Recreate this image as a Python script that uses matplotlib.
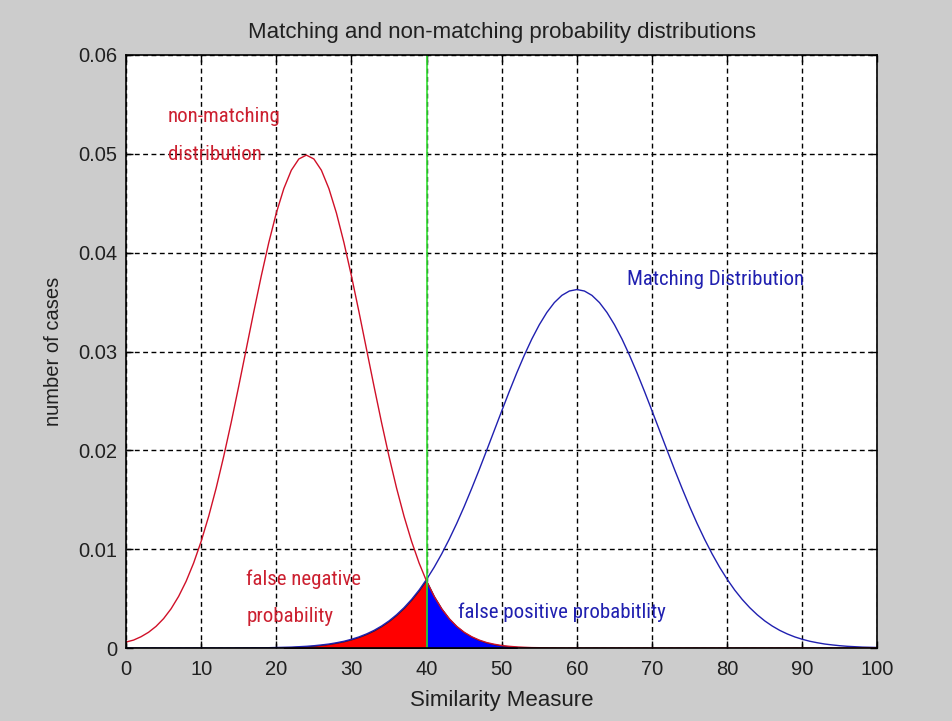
import numpy as np
import matplotlib
matplotlib.use("Agg")
import matplotlib.pyplot as plt
from matplotlib import font_manager

# ---------------- data ----------------
x_vals = list(range(0, 101))
non_matching = [0.00060, 0.00080, 0.00114, 0.00159, 0.00219, 0.00297, 0.00397, 0.00522,
                0.00675, 0.00860, 0.01079, 0.01332, 0.01619, 0.01938, 0.02283, 0.02649,
                0.03025, 0.03401, 0.03764, 0.04102, 0.04401, 0.04648, 0.04834, 0.04948,
                0.04987, 0.04948, 0.04834, 0.04648, 0.04401, 0.04102, 0.03764, 0.03401,
                0.03025, 0.02649, 0.02283, 0.01938, 0.01619, 0.01332, 0.01079, 0.00860,
                0.00675, 0.00522, 0.00397, 0.00297, 0.00219, 0.00159, 0.00114, 0.00080,
                0.00055, 0.00038, 0.00025, 0.00017, 0.00011, 0.00007, 0.00004, 0.00003,
                0.00002, 0.00001,
                0.0, 0.0, 0.0, 0.0, 0.0, 0.0, 0.0, 0.0, 0.0, 0.0, 0.0,
                0.0, 0.0, 0.0, 0.0, 0.0, 0.0, 0.0, 0.0, 0.0, 0.0, 0.0,
                0.0, 0.0, 0.0, 0.0, 0.0, 0.0, 0.0, 0.0, 0.0, 0.0, 0.0,
                0.0, 0.0, 0.0, 0.0, 0.0, 0.0, 0.0, 0.0, 0.0, 0.0]
matching = [0.0, 0.0, 0.0, 0.0, 0.0, 0.0, 0.0, 0.0, 0.0, 0.0,
            0.0, 0.0, 0.0, 0.0, 0.0,
            0.00001, 0.00001, 0.00002, 0.00002, 0.00003, 0.00005, 0.00007, 0.00009,
            0.00013, 0.00017, 0.00023, 0.00031, 0.00040, 0.00053, 0.00068, 0.00088,
            0.00112, 0.00142, 0.00178, 0.00222, 0.00274, 0.00336, 0.00408, 0.00491,
            0.00586, 0.00695, 0.00816, 0.00951, 0.01099, 0.01259, 0.01431, 0.01614,
            0.01804, 0.02001, 0.02200, 0.02399, 0.02595, 0.02784, 0.02962, 0.03126,
            0.03271, 0.03395, 0.03495, 0.03568, 0.03612, 0.03627, 0.03612, 0.03568,
            0.03495, 0.03395, 0.03271, 0.03126, 0.02962, 0.02784, 0.02595, 0.02399,
            0.02200, 0.02001, 0.01804, 0.01614, 0.01431, 0.01259, 0.01099, 0.00951,
            0.00816, 0.00695, 0.00586, 0.00491, 0.00408, 0.00336, 0.00274, 0.00222,
            0.00178, 0.00142, 0.00112, 0.00088, 0.00068, 0.00053, 0.00040, 0.00031,
            0.00023, 0.00017, 0.00013, 0.00009, 0.00007, 0.00005]
threshold = 40
false_neg_start = 21
false_pos_end = 52
x_ticks = [0, 10, 20, 30, 40, 50, 60, 70, 80, 90, 100]
y_ticks = [0, 0.01, 0.02, 0.03, 0.04, 0.05, 0.06]
y_tick_labels = ["0", "0.01", "0.02", "0.03", "0.04", "0.05", "0.06"]


# ---------------- pick a narrow font for the annotations ----------------
def _has_font(name):
    try:
        path = font_manager.findfont(font_manager.FontProperties(family=name),
                                     fallback_to_default=False)
        return path is not None
    except Exception:
        return False


if _has_font("Liberation Sans Narrow"):
    ann_family, ann_size = ["Liberation Sans Narrow", "DejaVu Sans"], 16.0
elif _has_font("Roboto Condensed"):
    ann_family, ann_size = ["Roboto Condensed", "DejaVu Sans"], 15.0
else:
    ann_family, ann_size = ["Liberation Sans", "DejaVu Sans"], 13.6

# ---------------- figure ----------------
BG = "#cccccc"
fig = plt.figure(figsize=(9.53, 7.21), dpi=100, facecolor=BG)
ax = fig.add_axes([126 / 953, 1 - 648 / 721, (877.5 - 126) / 953, (648 - 55) / 721])
ax.set_facecolor("white")

xs = np.array(x_vals, dtype=float)
nm = np.array(non_matching)
mt = np.array(matching)

# filled error regions
mask_fn = (xs >= false_neg_start) & (xs <= threshold)
mask_fp = (xs >= threshold) & (xs <= false_pos_end)
ax.fill_between(xs[mask_fn], 0, mt[mask_fn], facecolor="#ff0000",
                edgecolor="#301020", linewidth=0.8, zorder=3)
ax.fill_between(xs[mask_fp], 0, nm[mask_fp], facecolor="#0000ff",
                edgecolor="#101030", linewidth=0.8, zorder=3)

# curves
ax.plot(xs, mt, color="#2020b0", linewidth=1.0, zorder=4)
ax.plot(xs, nm, color="#d01028", linewidth=1.0, zorder=4)

# threshold line
ax.axvline(threshold, color="#33dd33", linewidth=1.2, zorder=5)

ax.set_xlim(0, 100)
ax.set_ylim(0, 0.06)
ax.set_xticks(x_ticks)
ax.set_xticklabels([str(v) for v in x_ticks])
ax.set_yticks(y_ticks)
ax.set_yticklabels(y_tick_labels)

for lab in ax.get_xticklabels() + ax.get_yticklabels():
    lab.set_fontfamily(["Liberation Sans", "DejaVu Sans"])
    lab.set_fontsize(14.5)

ax.tick_params(axis="both", which="both", direction="in", length=5, width=1.0,
               top=True, right=True, colors="black", labelcolor="#202020")
ax.tick_params(axis="x", pad=8.5)
ax.tick_params(axis="y", pad=6)

ax.grid(True, color="black", linestyle=(0, (3.5, 2.5)), linewidth=1.0, zorder=1)
ax.set_axisbelow(True)
for sp in ax.spines.values():
    sp.set_linewidth(1.2)
    sp.set_color("black")
    sp.set_zorder(6)

ax.set_title("Matching and non-matching probability distributions",
             fontfamily=["Liberation Sans", "DejaVu Sans"], fontsize=16,
             color="#202020", pad=12)
ax.set_xlabel("Similarity Measure", fontfamily=["Liberation Sans", "DejaVu Sans"],
              fontsize=16, color="#202020", labelpad=8)
ax.set_ylabel("number of cases", fontfamily=["Liberation Sans", "DejaVu Sans"],
              fontsize=14.5, color="#202020", labelpad=11)

red_txt = "#cc2030"
blue_txt = "#2020b0"
ax.text(5.6, 0.0532, "non-matching", color=red_txt, fontfamily=ann_family,
        fontsize=ann_size, ha="left", va="baseline", zorder=7)
ax.text(5.6, 0.0494, "distribution", color=red_txt, fontfamily=ann_family,
        fontsize=ann_size, ha="left", va="baseline", zorder=7)
ax.text(66.7, 0.0367, "Matching Distribution", color=blue_txt, fontfamily=ann_family,
        fontsize=ann_size, ha="left", va="baseline", zorder=7)
ax.text(16.0, 0.0064, "false negative", color=red_txt, fontfamily=ann_family,
        fontsize=ann_size, ha="left", va="baseline", zorder=7)
ax.text(16.0, 0.0026, "probability", color=red_txt, fontfamily=ann_family,
        fontsize=ann_size, ha="left", va="baseline", zorder=7)
ax.text(44.2, 0.0030, "false positive probabitlity", color=blue_txt,
        fontfamily=ann_family, fontsize=ann_size, ha="left", va="baseline", zorder=7)

fig.savefig("out.png", dpi=100, facecolor=BG)
